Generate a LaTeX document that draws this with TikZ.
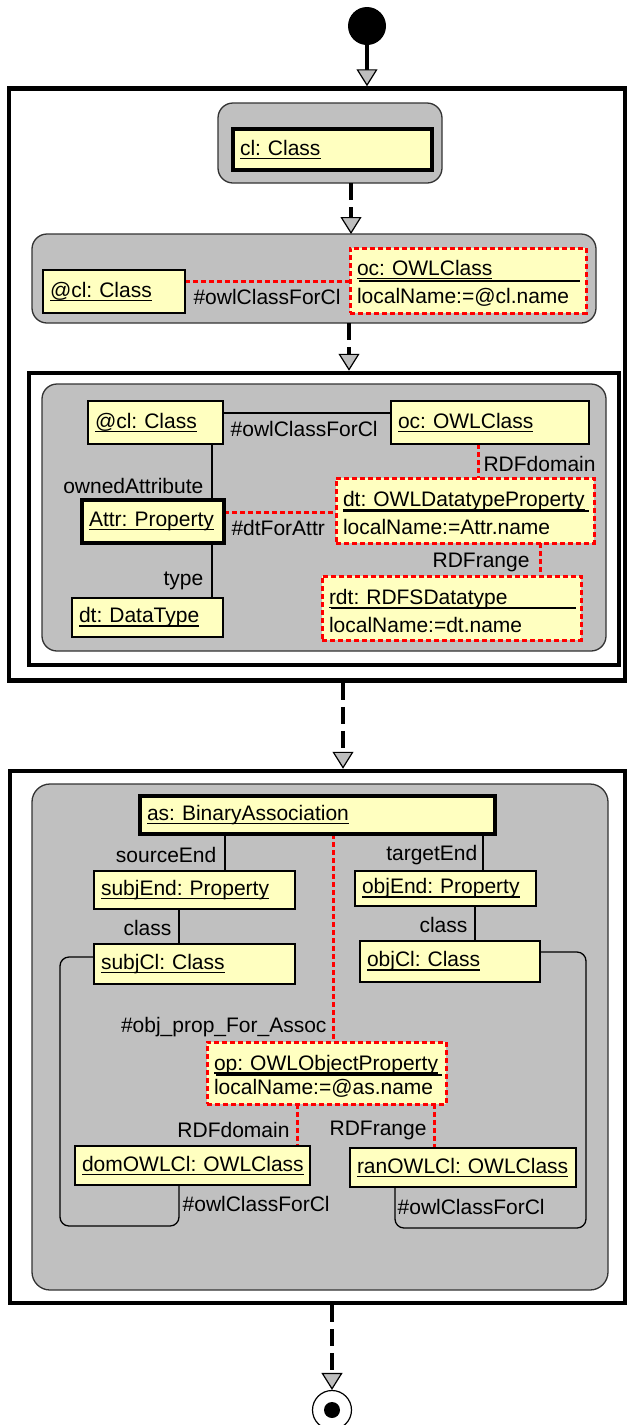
\documentclass[tikz,border=0pt]{standalone}
\usepackage{fontspec}
\setmainfont{Liberation Sans}
\usetikzlibrary{arrows.meta}
\pgfdeclarelayer{back}
\pgfdeclarelayer{lines}
\pgfsetlayers{back,lines,main}
\definecolor{ylw}{RGB}{255,255,192}
\definecolor{gbox}{RGB}{192,192,192}
\definecolor{tipgray}{RGB}{190,190,190}
\definecolor{redline}{RGB}{255,0,0}
\frenchspacing
\newcommand\uname[1]{\leavevmode\setbox0\hbox{#1}\rlap{\vrule height -2.3pt depth 3.8pt width \wd0}\box0}
\newcommand\umlbox[7]{%
  \pgfmathsetmacro\umlW{#5-#3}%
  \pgfmathsetmacro\umlH{#6-#4}%
  \pgfmathsetmacro\umlT{#5-#3-14}%
  \node[#1, minimum width=\umlW pt, minimum height=\umlH pt, text width=\umlT pt, anchor=north west] (#2) at (#3,#4) {#7};}
\newcommand\sepline[4]{\draw[sepl] ([xshift=#2pt,yshift=-#4pt]#1.north west) -- ([xshift=-#3pt,yshift=-#4pt]#1.north east);}
\tikzset{
  ybox/.style={draw=black, line width=1.3pt, fill=ylw, inner xsep=7pt, inner ysep=0pt, outer sep=0pt, align=left},
  thickbox/.style={ybox, line width=4.5pt},
  redbox/.style={ybox, draw=redline, line width=3pt, dash pattern=on 5pt off 3pt},
  actbox/.style={draw=black!80, line width=1.3pt, fill=gbox, rounded corners=15pt, inner sep=0pt, outer sep=0pt},
  bigframe/.style={draw=black, line width=4.5pt, inner sep=0pt},
  conn/.style={draw=black, line width=1.3pt},
  rconn/.style={draw=redline, line width=3pt, dash pattern=on 5pt off 3pt},
  sepl/.style={draw=black, line width=1.3pt},
  lbl/.style={inner sep=0pt},
  flowtip/.style={-{Triangle[length=17pt,width=21pt,fill=tipgray,line width=1.2pt]}},
  flow/.style={flowtip, line width=3.2pt, dash pattern=on 17pt off 7pt},
  flowsolid/.style={flowtip, line width=3.2pt}
}
\begin{document}
\begin{tikzpicture}[x=1pt,y=-1pt,font=\fontsize{21pt}{26pt}\selectfont]
\useasboundingbox (0,0) rectangle (628,1425);

\begin{pgfonlayer}{back}
\fill[white] (0,0) rectangle (628,1425);
\node[bigframe, minimum width=616pt, minimum height=592pt] (f1) at (317,384.5) {};
\node[bigframe, minimum width=590pt, minimum height=292pt] (f3) at (324,519) {};
\node[bigframe, minimum width=615pt, minimum height=532pt] (f2) at (317.5,1037) {};
\node[actbox, minimum width=224pt, minimum height=80pt] (g1) at (330,143) {};
\node[actbox, minimum width=564pt, minimum height=89pt] (g2) at (314,278.5) {};
\node[actbox, minimum width=564pt, minimum height=267pt] (g3) at (324,517.5) {};
\node[actbox, minimum width=576pt, minimum height=506pt, rounded corners=18pt] (g4) at (320,1037) {};
\end{pgfonlayer}

% object boxes
\umlbox{thickbox}{clbox}{233}{129}{432}{170}{\uname{cl: Class}}
\umlbox{ybox}{clA}{43}{270}{185}{313}{\uname{@cl: Class}}
\umlbox{redbox}{ocA}{350}{248}{586}{313}{\rule{0pt}{21pt}\uname{oc: OWLClass}\\[2pt]localName:=@cl.name}
\umlbox{ybox}{clB}{88}{401}{223}{444}{\uname{@cl: Class}}
\umlbox{ybox}{ocB}{391}{401}{589}{444}{\uname{oc: OWLClass}}
\umlbox{thickbox}{attr}{82}{500}{224}{543}{\uname{Attr: Property}}
\umlbox{ybox}{dtT}{72}{598}{223}{637}{\uname{dt: DataType}}
\umlbox{redbox}{dtp}{336}{478}{594}{543}{\rule{0pt}{21pt}\uname{dt: OWLDatatypeProperty}\\[2pt]localName:=Attr.name}
\umlbox{redbox}{rdt}{322}{576}{581}{640}{\rule{0pt}{21pt}\uname{rdt: RDFSDatatype}\\[2pt]localName:=dt.name}
\umlbox{thickbox}{asB}{140}{796}{495}{834}{\uname{as: BinaryAssociation}}
\umlbox{ybox}{subjEnd}{94}{871}{295}{909}{\uname{subjEnd: Property}}
\umlbox{ybox}{objEnd}{355}{871}{536}{906}{\uname{objEnd: Property}}
\umlbox{ybox}{subjCl}{94}{944}{295}{984}{\uname{subjCl: Class}}
\umlbox{ybox}{objCl}{360}{941}{540}{982}{\uname{objCl: Class}}
\umlbox{redbox}{op}{207}{1042}{446}{1104}{\rule{0pt}{21pt}\uname{op: OWLObjectProperty}\\[-2pt]localName:=@as.name}
\umlbox{ybox}{domCl}{75}{1146}{310}{1185}{\uname{domOWLCl: OWLClass}}
\umlbox{ybox}{ranCl}{350}{1148}{576}{1187}{\uname{ranOWLCl: OWLClass}}

\sepline{ocA}{9}{6}{33}
\sepline{dtp}{7}{5}{33}
\sepline{rdt}{9}{5}{32}
\sepline{op}{9}{4}{33}

% connectors
\begin{pgfonlayer}{lines}
\draw[rconn] ([yshift=-11pt]clA.north east) coordinate (p1) -- (p1 -| ocA.west)
  node[lbl,pos=0,anchor=west,xshift=7pt,yshift=-16pt] {\#owlClassForCl};
\draw[conn] ([yshift=-12pt]clB.north east) coordinate (p2) -- (p2 -| ocB.west)
  node[lbl,pos=0,anchor=west,xshift=7pt,yshift=-16pt] {\#owlClassForCl};
\draw[conn] ([xshift=-11pt]clB.south east) coordinate (p3) -- (p3 |- attr.north)
  node[lbl,pos=1,anchor=east,xshift=-8pt,yshift=14pt] {ownedAttribute};
\draw[conn] (p3 |- attr.south) -- (p3 |- dtT.north)
  node[lbl,pos=1,anchor=east,xshift=-8pt,yshift=17pt] {type};
\draw[rconn] ([yshift=-12pt]attr.north east) coordinate (p4) -- (p4 -| dtp.west)
  node[lbl,pos=0,anchor=west,xshift=6pt,yshift=-16pt] {\#dtForAttr};
\draw[rconn] ([xshift=87pt]ocB.south west) coordinate (p5) -- (p5 |- dtp.north)
  node[lbl,pos=1,anchor=west,xshift=4pt,yshift=14pt] {RDFdomain};
\draw[rconn] ([xshift=204pt]dtp.south west) coordinate (p6) -- (p6 |- rdt.north)
  node[lbl,pos=1,anchor=east,xshift=-9pt,yshift=14pt] {RDFrange};

\draw[conn] ([xshift=85pt]asB.south west) coordinate (p7) -- (p7 |- subjEnd.north)
  node[lbl,pos=1,anchor=east,xshift=-8pt,yshift=16pt] {sourceEnd};
\draw[conn] ([xshift=343pt]asB.south west) coordinate (p8) -- (p8 |- objEnd.north)
  node[lbl,pos=1,anchor=east,xshift=-5pt,yshift=16pt] {targetEnd};
\draw[conn] ([xshift=85pt]subjEnd.south west) coordinate (p9) -- (p9 |- subjCl.north)
  node[lbl,pos=1,anchor=east,xshift=-7pt,yshift=16pt] {class};
\draw[conn] ([xshift=120pt]objEnd.south west) coordinate (p10) -- (p10 |- objCl.north)
  node[lbl,pos=1,anchor=east,xshift=-7pt,yshift=16pt] {class};
\draw[rconn] ([xshift=193pt]asB.south west) coordinate (p11) -- (p11 |- op.north)
  node[lbl,pos=1,anchor=east,xshift=-5pt,yshift=15pt] {\#obj\_prop\_For\_Assoc};
\draw[rconn] ([xshift=90pt]op.south west) coordinate (p12) -- (p12 |- domCl.north)
  node[lbl,pos=1,anchor=east,xshift=-6pt,yshift=16pt] {RDFdomain};
\draw[rconn] ([xshift=227pt]op.south west) coordinate (p13) -- (p13 |- ranCl.north)
  node[lbl,pos=1,anchor=east,xshift=-6pt,yshift=18pt] {RDFrange};
\draw[conn, rounded corners=9pt] ([yshift=-13pt]subjCl.north west) -- ++(-34,0) -- ++(0,269)
  -| ([xshift=104pt]domCl.south west)
  node[lbl,pos=1,anchor=west,xshift=3pt,yshift=-19pt] {\#owlClassForCl};
\draw[conn, rounded corners=9pt] ([yshift=-11pt]objCl.north east) -- ++(46,0) -- ++(0,276)
  -| ([xshift=45pt]ranCl.south west)
  node[lbl,pos=1,anchor=west,xshift=2pt,yshift=-20pt] {\#owlClassForCl};
\end{pgfonlayer}

% start / end
\node[circle, fill=black, minimum size=38pt, inner sep=0pt] (start) at (367,26) {};
\node[circle, draw=black, line width=1.2pt, fill=white, minimum size=39pt, inner sep=0pt] (end) at (332,1410) {};
\node[circle, fill=black, minimum size=16pt, inner sep=0pt] (enddot) at (end.center) {};

% control flow
\draw[flowsolid] (start.south) -- (start.south |- f1.north);
\draw[flow] ([xshift=21pt]g1.south) coordinate (a1) -- (a1 |- g2.north);
\draw[flow] ([xshift=35pt]g2.south) coordinate (a2) -- (a2 |- f3.north);
\draw[flow] ([xshift=26pt]f1.south) coordinate (a3) -- (a3 |- f2.north);
\draw[flow] (end.north |- f2.south) -- (end.north);
\end{tikzpicture}
\end{document}
